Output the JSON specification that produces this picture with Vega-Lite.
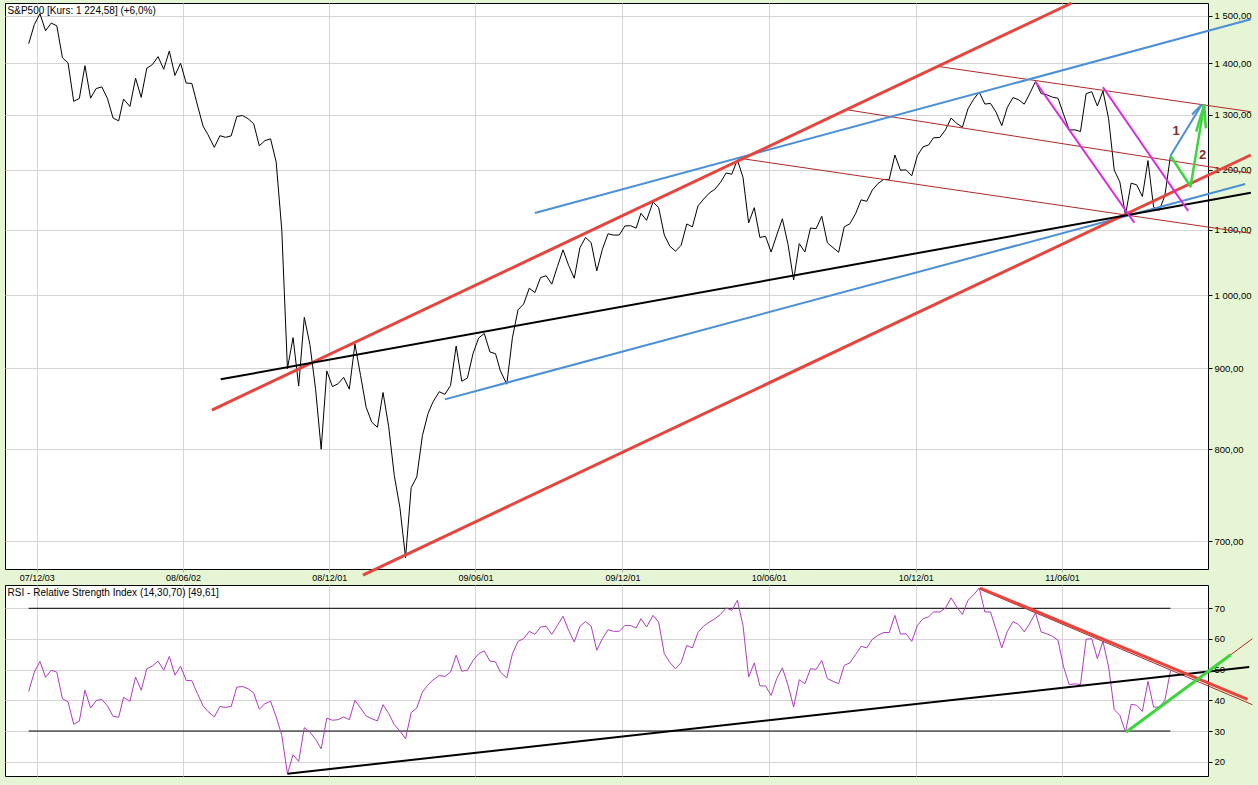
{
"$schema":"https://vega.github.io/schema/vega-lite/v6.json",
"background":"#E6F6D5",
"padding":{"left":4,"top":1,"right":4,"bottom":8},
"bounds":"flush",
"spacing":16,
"config":{
 "view":{"stroke":"#000000","strokeWidth":1,"fill":"#FFFFFF"},
 "line":{"strokeJoin":"round"},
 "axis":{"labelFont":"Liberation Sans","labelColor":"#000000","gridColor":"#D5D5D5","gridWidth":1,"domain":false,"title":null,"labelOverlap":false,"labelFlush":false}
},
"datasets":{
"price":[
{"date":"2007-11-23","v":1440.70},{"date":"2007-11-30","v":1481.14},{"date":"2007-12-07","v":1504.66},{"date":"2007-12-14","v":1467.95},{"date":"2007-12-21","v":1484.46},{"date":"2007-12-28","v":1478.49},
{"date":"2008-01-04","v":1411.63},{"date":"2008-01-11","v":1401.02},{"date":"2008-01-18","v":1325.19},{"date":"2008-01-25","v":1330.61},{"date":"2008-02-01","v":1395.42},{"date":"2008-02-08","v":1331.29},{"date":"2008-02-15","v":1349.99},{"date":"2008-02-22","v":1353.11},{"date":"2008-02-29","v":1330.63},{"date":"2008-03-07","v":1293.37},{"date":"2008-03-14","v":1288.14},{"date":"2008-03-20","v":1329.51},{"date":"2008-03-28","v":1315.22},{"date":"2008-04-04","v":1370.40},{"date":"2008-04-11","v":1332.83},{"date":"2008-04-18","v":1390.33},{"date":"2008-04-25","v":1397.84},{"date":"2008-05-02","v":1413.90},{"date":"2008-05-09","v":1388.28},{"date":"2008-05-16","v":1425.35},{"date":"2008-05-23","v":1375.93},{"date":"2008-05-30","v":1400.38},{"date":"2008-06-06","v":1360.68},{"date":"2008-06-13","v":1360.03},{"date":"2008-06-20","v":1317.93},{"date":"2008-06-27","v":1278.38},{"date":"2008-07-03","v":1262.90},{"date":"2008-07-11","v":1239.49},{"date":"2008-07-18","v":1260.68},{"date":"2008-07-25","v":1257.76},{"date":"2008-08-01","v":1260.31},{"date":"2008-08-08","v":1296.32},{"date":"2008-08-15","v":1298.20},{"date":"2008-08-22","v":1292.20},{"date":"2008-08-29","v":1282.83},{"date":"2008-09-05","v":1242.31},{"date":"2008-09-12","v":1251.70},{"date":"2008-09-19","v":1255.08},{"date":"2008-09-26","v":1213.27},{"date":"2008-10-03","v":1099.23},{"date":"2008-10-10","v":899.22},{"date":"2008-10-17","v":940.55},{"date":"2008-10-24","v":876.77},{"date":"2008-10-31","v":968.75},{"date":"2008-11-07","v":930.99},{"date":"2008-11-14","v":873.29},{"date":"2008-11-21","v":800.03},{"date":"2008-11-28","v":896.24},{"date":"2008-12-05","v":876.07},{"date":"2008-12-12","v":879.73},{"date":"2008-12-19","v":887.88},{"date":"2008-12-26","v":872.80},
{"date":"2009-01-02","v":931.80},{"date":"2009-01-09","v":890.35},{"date":"2009-01-16","v":850.12},{"date":"2009-01-23","v":831.95},{"date":"2009-01-30","v":825.88},{"date":"2009-02-06","v":868.60},{"date":"2009-02-13","v":826.84},{"date":"2009-02-20","v":770.05},{"date":"2009-02-27","v":735.09},{"date":"2009-03-06","v":683.38},{"date":"2009-03-13","v":756.55},{"date":"2009-03-20","v":768.54},{"date":"2009-03-27","v":815.94},{"date":"2009-04-03","v":842.50},{"date":"2009-04-09","v":856.56},{"date":"2009-04-17","v":869.60},{"date":"2009-04-24","v":866.23},{"date":"2009-05-01","v":877.52},{"date":"2009-05-08","v":929.23},{"date":"2009-05-15","v":882.88},{"date":"2009-05-22","v":887.00},{"date":"2009-05-29","v":919.14},{"date":"2009-06-05","v":940.09},{"date":"2009-06-12","v":946.21},{"date":"2009-06-19","v":921.23},{"date":"2009-06-26","v":918.90},{"date":"2009-07-02","v":896.42},{"date":"2009-07-10","v":879.13},{"date":"2009-07-17","v":940.38},{"date":"2009-07-24","v":979.26},{"date":"2009-07-31","v":987.48},{"date":"2009-08-07","v":1010.48},{"date":"2009-08-14","v":1004.09},{"date":"2009-08-21","v":1026.13},{"date":"2009-08-28","v":1028.93},{"date":"2009-09-04","v":1016.40},{"date":"2009-09-11","v":1042.73},{"date":"2009-09-18","v":1068.30},{"date":"2009-09-25","v":1044.38},{"date":"2009-10-02","v":1025.21},{"date":"2009-10-09","v":1071.49},{"date":"2009-10-16","v":1087.68},{"date":"2009-10-23","v":1079.60},{"date":"2009-10-30","v":1036.19},{"date":"2009-11-06","v":1069.30},{"date":"2009-11-13","v":1093.48},{"date":"2009-11-20","v":1091.38},{"date":"2009-11-27","v":1091.49},{"date":"2009-12-04","v":1105.98},{"date":"2009-12-11","v":1106.41},{"date":"2009-12-18","v":1102.47},{"date":"2009-12-24","v":1126.48},{"date":"2009-12-31","v":1115.10},
{"date":"2010-01-08","v":1144.98},{"date":"2010-01-15","v":1136.03},{"date":"2010-01-22","v":1091.76},{"date":"2010-01-29","v":1073.87},{"date":"2010-02-05","v":1066.19},{"date":"2010-02-12","v":1075.51},{"date":"2010-02-19","v":1109.17},{"date":"2010-02-26","v":1104.49},{"date":"2010-03-05","v":1138.70},{"date":"2010-03-12","v":1149.99},{"date":"2010-03-19","v":1159.90},{"date":"2010-03-26","v":1166.59},{"date":"2010-04-02","v":1178.10},{"date":"2010-04-09","v":1194.37},{"date":"2010-04-16","v":1192.13},{"date":"2010-04-23","v":1217.28},{"date":"2010-04-30","v":1186.69},{"date":"2010-05-07","v":1110.88},{"date":"2010-05-14","v":1135.68},{"date":"2010-05-21","v":1087.69},{"date":"2010-05-28","v":1089.41},{"date":"2010-06-04","v":1064.88},{"date":"2010-06-11","v":1091.60},{"date":"2010-06-18","v":1117.51},{"date":"2010-06-25","v":1076.76},{"date":"2010-07-02","v":1022.58},{"date":"2010-07-09","v":1077.96},{"date":"2010-07-16","v":1064.88},{"date":"2010-07-23","v":1102.66},{"date":"2010-07-30","v":1101.60},{"date":"2010-08-06","v":1121.64},{"date":"2010-08-13","v":1079.25},{"date":"2010-08-20","v":1071.69},{"date":"2010-08-27","v":1064.59},{"date":"2010-09-03","v":1104.51},{"date":"2010-09-10","v":1109.55},{"date":"2010-09-17","v":1125.59},{"date":"2010-09-24","v":1148.67},{"date":"2010-10-01","v":1146.24},{"date":"2010-10-08","v":1165.15},{"date":"2010-10-15","v":1176.19},{"date":"2010-10-22","v":1183.08},{"date":"2010-10-29","v":1183.26},{"date":"2010-11-05","v":1225.85},{"date":"2010-11-12","v":1199.21},{"date":"2010-11-19","v":1199.73},{"date":"2010-11-26","v":1189.40},{"date":"2010-12-03","v":1224.71},{"date":"2010-12-10","v":1240.40},{"date":"2010-12-17","v":1243.91},{"date":"2010-12-23","v":1256.77},{"date":"2010-12-31","v":1257.64},
{"date":"2011-01-07","v":1271.50},{"date":"2011-01-14","v":1293.24},{"date":"2011-01-21","v":1283.35},{"date":"2011-01-28","v":1276.34},{"date":"2011-02-04","v":1310.87},{"date":"2011-02-11","v":1329.15},{"date":"2011-02-18","v":1343.01},{"date":"2011-02-25","v":1319.88},{"date":"2011-03-04","v":1321.15},{"date":"2011-03-11","v":1304.28},{"date":"2011-03-18","v":1279.20},{"date":"2011-03-25","v":1313.80},{"date":"2011-04-01","v":1332.41},{"date":"2011-04-08","v":1328.17},{"date":"2011-04-15","v":1319.68},{"date":"2011-04-21","v":1337.38},{"date":"2011-04-29","v":1363.61},{"date":"2011-05-06","v":1340.20},{"date":"2011-05-13","v":1337.77},{"date":"2011-05-20","v":1333.27},{"date":"2011-05-27","v":1331.10},{"date":"2011-06-03","v":1300.16},{"date":"2011-06-10","v":1270.98},{"date":"2011-06-17","v":1271.50},{"date":"2011-06-24","v":1268.45},{"date":"2011-07-01","v":1339.67},{"date":"2011-07-08","v":1343.80},{"date":"2011-07-15","v":1316.14},{"date":"2011-07-22","v":1345.02},{"date":"2011-07-29","v":1292.28},{"date":"2011-08-05","v":1199.38},{"date":"2011-08-12","v":1178.81},{"date":"2011-08-19","v":1123.53},{"date":"2011-08-26","v":1176.80},{"date":"2011-09-02","v":1173.97},{"date":"2011-09-09","v":1154.23},{"date":"2011-09-16","v":1216.01},{"date":"2011-09-23","v":1136.43},{"date":"2011-09-30","v":1131.42},{"date":"2011-10-07","v":1155.46},{"date":"2011-10-14","v":1224.58}
],
"rsi":[
{"date":"2007-11-23","v":42.9},{"date":"2007-11-30","v":49.2},{"date":"2007-12-07","v":52.7},{"date":"2007-12-14","v":47.5},{"date":"2007-12-21","v":49.8},{"date":"2007-12-28","v":49.2},
{"date":"2008-01-04","v":40.5},{"date":"2008-01-11","v":39.5},{"date":"2008-01-18","v":32.2},{"date":"2008-01-25","v":33.2},{"date":"2008-02-01","v":43.3},{"date":"2008-02-08","v":37.5},{"date":"2008-02-15","v":39.9},{"date":"2008-02-22","v":40.3},{"date":"2008-02-29","v":38.2},{"date":"2008-03-07","v":34.8},{"date":"2008-03-14","v":34.5},{"date":"2008-03-20","v":41.0},{"date":"2008-03-28","v":39.7},{"date":"2008-04-04","v":47.6},{"date":"2008-04-11","v":43.3},{"date":"2008-04-18","v":50.3},{"date":"2008-04-25","v":51.2},{"date":"2008-05-02","v":52.8},{"date":"2008-05-09","v":49.8},{"date":"2008-05-16","v":54.3},{"date":"2008-05-23","v":48.2},{"date":"2008-05-30","v":51.1},{"date":"2008-06-06","v":46.5},{"date":"2008-06-13","v":46.4},{"date":"2008-06-20","v":42.2},{"date":"2008-06-27","v":38.2},{"date":"2008-07-03","v":36.4},{"date":"2008-07-11","v":34.6},{"date":"2008-07-18","v":38.0},{"date":"2008-07-25","v":37.7},{"date":"2008-08-01","v":38.0},{"date":"2008-08-08","v":44.3},{"date":"2008-08-15","v":44.5},{"date":"2008-08-22","v":43.8},{"date":"2008-08-29","v":42.4},{"date":"2008-09-05","v":37.1},{"date":"2008-09-12","v":38.9},{"date":"2008-09-19","v":39.7},{"date":"2008-09-26","v":34.6},{"date":"2008-10-03","v":28.6},{"date":"2008-10-10","v":16.1},{"date":"2008-10-17","v":22.3},{"date":"2008-10-24","v":20.1},{"date":"2008-10-31","v":31.1},{"date":"2008-11-07","v":29.7},{"date":"2008-11-14","v":27.3},{"date":"2008-11-21","v":24.2},{"date":"2008-11-28","v":34.2},{"date":"2008-12-05","v":33.5},{"date":"2008-12-12","v":33.7},{"date":"2008-12-19","v":34.6},{"date":"2008-12-26","v":33.7},
{"date":"2009-01-02","v":40.0},{"date":"2009-01-09","v":37.5},{"date":"2009-01-16","v":34.9},{"date":"2009-01-23","v":34.0},{"date":"2009-01-30","v":33.3},{"date":"2009-02-06","v":38.6},{"date":"2009-02-13","v":35.7},{"date":"2009-02-20","v":32.1},{"date":"2009-02-27","v":30.0},{"date":"2009-03-06","v":27.5},{"date":"2009-03-13","v":36.0},{"date":"2009-03-20","v":37.5},{"date":"2009-03-27","v":42.7},{"date":"2009-04-03","v":45.1},{"date":"2009-04-09","v":46.6},{"date":"2009-04-17","v":48.1},{"date":"2009-04-24","v":47.8},{"date":"2009-05-01","v":49.2},{"date":"2009-05-08","v":54.7},{"date":"2009-05-15","v":49.5},{"date":"2009-05-22","v":49.8},{"date":"2009-05-29","v":53.0},{"date":"2009-06-05","v":55.2},{"date":"2009-06-12","v":56.1},{"date":"2009-06-19","v":52.8},{"date":"2009-06-26","v":52.5},{"date":"2009-07-02","v":49.2},{"date":"2009-07-10","v":47.3},{"date":"2009-07-17","v":55.2},{"date":"2009-07-24","v":59.2},{"date":"2009-07-31","v":60.1},{"date":"2009-08-07","v":62.5},{"date":"2009-08-14","v":61.5},{"date":"2009-08-21","v":63.9},{"date":"2009-08-28","v":64.1},{"date":"2009-09-04","v":61.5},{"date":"2009-09-11","v":64.4},{"date":"2009-09-18","v":67.4},{"date":"2009-09-25","v":62.8},{"date":"2009-10-02","v":59.0},{"date":"2009-10-09","v":64.1},{"date":"2009-10-16","v":65.7},{"date":"2009-10-23","v":64.2},{"date":"2009-10-30","v":56.3},{"date":"2009-11-06","v":60.1},{"date":"2009-11-13","v":63.0},{"date":"2009-11-20","v":62.5},{"date":"2009-11-27","v":62.5},{"date":"2009-12-04","v":64.4},{"date":"2009-12-11","v":64.4},{"date":"2009-12-18","v":63.6},{"date":"2009-12-24","v":66.6},{"date":"2009-12-31","v":63.9},
{"date":"2010-01-08","v":67.7},{"date":"2010-01-15","v":65.5},{"date":"2010-01-22","v":55.2},{"date":"2010-01-29","v":52.3},{"date":"2010-02-05","v":50.3},{"date":"2010-02-12","v":52.3},{"date":"2010-02-19","v":57.9},{"date":"2010-02-26","v":57.1},{"date":"2010-03-05","v":62.1},{"date":"2010-03-12","v":64.2},{"date":"2010-03-19","v":65.5},{"date":"2010-03-26","v":66.6},{"date":"2010-04-02","v":68.0},{"date":"2010-04-09","v":70.1},{"date":"2010-04-16","v":69.3},{"date":"2010-04-23","v":72.6},{"date":"2010-04-30","v":64.4},{"date":"2010-05-07","v":47.6},{"date":"2010-05-14","v":52.2},{"date":"2010-05-21","v":44.7},{"date":"2010-05-28","v":44.7},{"date":"2010-06-04","v":41.6},{"date":"2010-06-11","v":47.1},{"date":"2010-06-18","v":50.6},{"date":"2010-06-25","v":44.9},{"date":"2010-07-02","v":37.8},{"date":"2010-07-09","v":46.7},{"date":"2010-07-16","v":45.4},{"date":"2010-07-23","v":50.3},{"date":"2010-07-30","v":50.1},{"date":"2010-08-06","v":53.0},{"date":"2010-08-13","v":47.1},{"date":"2010-08-20","v":46.2},{"date":"2010-08-27","v":45.4},{"date":"2010-09-03","v":51.4},{"date":"2010-09-10","v":52.2},{"date":"2010-09-17","v":54.9},{"date":"2010-09-24","v":57.6},{"date":"2010-10-01","v":57.1},{"date":"2010-10-08","v":59.9},{"date":"2010-10-15","v":61.2},{"date":"2010-10-22","v":62.1},{"date":"2010-10-29","v":62.1},{"date":"2010-11-05","v":67.7},{"date":"2010-11-12","v":61.6},{"date":"2010-11-19","v":61.7},{"date":"2010-11-26","v":59.2},{"date":"2010-12-03","v":64.4},{"date":"2010-12-10","v":66.6},{"date":"2010-12-17","v":67.2},{"date":"2010-12-23","v":68.8},{"date":"2010-12-31","v":68.8},
{"date":"2011-01-07","v":70.1},{"date":"2011-01-14","v":73.4},{"date":"2011-01-21","v":70.4},{"date":"2011-01-28","v":68.0},{"date":"2011-02-04","v":72.6},{"date":"2011-02-11","v":74.4},{"date":"2011-02-18","v":76.6},{"date":"2011-02-25","v":68.8},{"date":"2011-03-04","v":68.8},{"date":"2011-03-11","v":63.1},{"date":"2011-03-18","v":57.1},{"date":"2011-03-25","v":62.5},{"date":"2011-04-01","v":65.7},{"date":"2011-04-08","v":64.7},{"date":"2011-04-15","v":62.3},{"date":"2011-04-21","v":64.7},{"date":"2011-04-29","v":68.5},{"date":"2011-05-06","v":62.3},{"date":"2011-05-13","v":61.7},{"date":"2011-05-20","v":60.9},{"date":"2011-05-27","v":59.6},{"date":"2011-06-03","v":50.9},{"date":"2011-06-10","v":45.1},{"date":"2011-06-17","v":45.4},{"date":"2011-06-24","v":45.1},{"date":"2011-07-01","v":59.9},{"date":"2011-07-08","v":60.1},{"date":"2011-07-15","v":53.6},{"date":"2011-07-22","v":59.2},{"date":"2011-07-29","v":50.9},{"date":"2011-08-05","v":37.0},{"date":"2011-08-12","v":35.1},{"date":"2011-08-19","v":29.7},{"date":"2011-08-26","v":38.7},{"date":"2011-09-02","v":38.4},{"date":"2011-09-09","v":36.4},{"date":"2011-09-16","v":46.2},{"date":"2011-09-23","v":37.8},{"date":"2011-09-30","v":37.8},{"date":"2011-10-07","v":40.0},{"date":"2011-10-14","v":49.61}
],
"trend":[
{"id":"t1","s":"rt","date":"2010-12-31","v":1393.4},{"id":"t1","s":"rt","date":"2012-01-22","v":1305.3},
{"id":"t2","s":"rt","date":"2010-09-08","v":1308.6},{"id":"t2","s":"rt","date":"2012-01-22","v":1193.8},
{"id":"t3","s":"rt","date":"2010-04-26","v":1220.0},{"id":"t3","s":"rt","date":"2012-01-22","v":1094.2},
{"id":"b1","s":"b","date":"2009-08-14","v":1126.9},{"id":"b1","s":"b","date":"2012-01-22","v":1492.6},
{"id":"b2","s":"b","date":"2009-04-24","v":860.0},{"id":"b2","s":"b","date":"2012-01-15","v":1175.4},
{"id":"r1","s":"r","date":"2008-07-08","v":846.8},{"id":"r1","s":"r","date":"2011-06-13","v":1528.3},
{"id":"r2","s":"r","date":"2009-01-12","v":666.5},{"id":"r2","s":"r","date":"2012-01-22","v":1225.9},
{"id":"k1","s":"k","date":"2008-07-19","v":885.4},{"id":"k1","s":"k","date":"2012-01-22","v":1160.6},
{"id":"m1","s":"m","date":"2011-04-29","v":1363.4},{"id":"m1","s":"m","date":"2011-08-30","v":1111.2},
{"id":"m2","s":"m","date":"2011-07-22","v":1352.4},{"id":"m2","s":"m","date":"2011-11-05","v":1130.2},
{"id":"a1","s":"a","date":"2011-10-14","v":1224.58},{"id":"a1","s":"a","date":"2011-11-22","v":1319.0},
{"id":"a2","s":"a","date":"2011-11-10","v":1300.0},{"id":"a2","s":"a","date":"2011-11-22","v":1319.0},
{"id":"g1","s":"g","date":"2011-10-14","v":1224.58},{"id":"g1","s":"g","date":"2011-11-08","v":1171.1},{"id":"g1","s":"g","date":"2011-11-25","v":1319.0},
{"id":"g2","s":"g","date":"2011-11-15","v":1268.0},{"id":"g2","s":"g","date":"2011-11-25","v":1319.0},
{"id":"g3","s":"g","date":"2011-11-25","v":1319.0},{"id":"g3","s":"g","date":"2011-11-27","v":1274.3}
],
"labels":[{"date":"2011-10-21","v":1269.3,"t":"1"},{"date":"2011-11-23","v":1225.9,"t":"2"}],
"ptitle":[{"date":"2007-10-24","v":1528.3,"t":"S&P500 [Kurs: 1 224,58] (+6,0%)"}],
"rtitle":[{"date":"2007-10-24","v":77.59,"t":"RSI - Relative Strength Index (14,30,70) [49,61]"}],
"rsitrend":[
{"id":"rk","s":"k","date":"2008-10-10","v":16.09},{"id":"rk","s":"k","date":"2012-01-20","v":50.86},
{"id":"rt1","s":"rt","date":"2011-02-19","v":76.2},{"id":"rt1","s":"rt","date":"2012-01-24","v":38.57},
{"id":"rt2","s":"rt","date":"2011-08-20","v":29.7},{"id":"rt2","s":"rt","date":"2012-01-24","v":60.09},
{"id":"rr","s":"r","date":"2011-02-19","v":76.6},{"id":"rr","s":"r","date":"2012-01-18","v":40.33},
{"id":"rg","s":"g","date":"2011-08-20","v":29.7},{"id":"rg","s":"g","date":"2011-12-28","v":54.87}
],
"levels":[{"date":"2007-11-23","date2":"2011-10-14","v":70},{"date":"2007-11-23","date2":"2011-10-14","v":30}]
},
"vconcat":[
{
 "width":1203,"height":566,
 "encoding":{
  "x":{"field":"date","type":"temporal",
       "scale":{"type":"utc","domain":[{"year":2007,"month":10,"date":24,"hours":12,"utc":true},{"year":2011,"month":11,"date":29,"hours":17,"utc":true}]},
       "axis":{"values":[{"year":2007,"month":12,"date":3,"utc":true},{"year":2008,"month":6,"date":2,"utc":true},{"year":2008,"month":12,"date":1,"utc":true},{"year":2009,"month":6,"date":1,"utc":true},{"year":2009,"month":12,"date":1,"utc":true},{"year":2010,"month":6,"date":1,"utc":true},{"year":2010,"month":12,"date":1,"utc":true},{"year":2011,"month":6,"date":1,"utc":true}],
               "labelExpr":"utcFormat(datum.value, '%y/%m/%d')","grid":true,"tickSize":3,"tickColor":"#B0B0B0","labelPadding":1,"labelFontSize":9}},
  "y":{"field":"v","type":"quantitative",
       "scale":{"type":"log","domain":[672.4,1528.3],"nice":false,"zero":false},
       "axis":{"orient":"right","values":[700,800,900,1000,1100,1200,1300,1400,1500],
               "labelExpr":"replace(replace(format(datum.value, ',.2f'), ',', ' '), '.', ',')",
               "grid":true,"tickSize":4,"tickColor":"#000000","labelPadding":2,"labelFontSize":9.5}}
 },
 "layer":[
  {"data":{"name":"price"},"mark":{"type":"line","color":"#000000","strokeWidth":1}},
  {"data":{"name":"trend"},"transform":[{"filter":"datum.s == 'rt'"}],"mark":{"type":"line","color":"#B02828","strokeWidth":1},"encoding":{"detail":{"field":"id"}}},
  {"data":{"name":"trend"},"transform":[{"filter":"datum.s == 'b'"}],"mark":{"type":"line","color":"#4A8FD8","strokeWidth":2},"encoding":{"detail":{"field":"id"}}},
  {"data":{"name":"trend"},"transform":[{"filter":"datum.s == 'r'"}],"mark":{"type":"line","color":"#E5453C","strokeWidth":3},"encoding":{"detail":{"field":"id"}}},
  {"data":{"name":"trend"},"transform":[{"filter":"datum.s == 'k'"}],"mark":{"type":"line","color":"#000000","strokeWidth":2},"encoding":{"detail":{"field":"id"}}},
  {"data":{"name":"trend"},"transform":[{"filter":"datum.s == 'm'"}],"mark":{"type":"line","color":"#E024E0","strokeWidth":2},"encoding":{"detail":{"field":"id"}}},
  {"data":{"name":"trend"},"transform":[{"filter":"datum.s == 'a'"}],"mark":{"type":"line","color":"#4A8FD8","strokeWidth":2},"encoding":{"detail":{"field":"id"}}},
  {"data":{"name":"trend"},"transform":[{"filter":"datum.s == 'g'"}],"mark":{"type":"line","color":"#3ED43E","strokeWidth":2.5},"encoding":{"detail":{"field":"id"}}},
  {"data":{"name":"labels"},"mark":{"type":"text","font":"Liberation Sans","fontSize":13,"fontWeight":"bold","color":"#8B2A2A"},"encoding":{"text":{"field":"t"}}},
  {"data":{"name":"ptitle"},"mark":{"type":"text","font":"Liberation Sans","fontSize":10,"color":"#000000","align":"left","baseline":"alphabetic","dx":3,"dy":10.5},"encoding":{"text":{"field":"t"}}}
 ]
},
{
 "width":1203,"height":191,
 "encoding":{
  "x":{"field":"date","type":"temporal",
       "scale":{"type":"utc","domain":[{"year":2007,"month":10,"date":24,"hours":12,"utc":true},{"year":2011,"month":11,"date":29,"hours":17,"utc":true}]},
       "axis":{"values":[{"year":2007,"month":12,"date":3,"utc":true},{"year":2008,"month":6,"date":2,"utc":true},{"year":2008,"month":12,"date":1,"utc":true},{"year":2009,"month":6,"date":1,"utc":true},{"year":2009,"month":12,"date":1,"utc":true},{"year":2010,"month":6,"date":1,"utc":true},{"year":2010,"month":12,"date":1,"utc":true},{"year":2011,"month":6,"date":1,"utc":true}],
               "labels":false,"ticks":false,"grid":true}},
  "y":{"field":"v","type":"quantitative",
       "scale":{"domain":[15.34,77.59],"nice":false,"zero":false},
       "axis":{"orient":"right","values":[20,30,40,50,60,70],"grid":true,"tickSize":4,"tickColor":"#000000","labelPadding":2,"labelFontSize":9.5}}
 },
 "layer":[
  {"data":{"name":"levels"},"mark":{"type":"rule","color":"#000000","strokeWidth":1},"encoding":{"x2":{"field":"date2"}}},
  {"data":{"name":"rsi"},"mark":{"type":"line","color":"#B03CC0","strokeWidth":1}},
  {"data":{"name":"rsitrend"},"transform":[{"filter":"datum.s == 'rt'"}],"mark":{"type":"line","color":"#B02828","strokeWidth":1},"encoding":{"detail":{"field":"id"}}},
  {"data":{"name":"rsitrend"},"transform":[{"filter":"datum.s == 'k'"}],"mark":{"type":"line","color":"#000000","strokeWidth":2},"encoding":{"detail":{"field":"id"}}},
  {"data":{"name":"rsitrend"},"transform":[{"filter":"datum.s == 'r'"}],"mark":{"type":"line","color":"#E5453C","strokeWidth":3},"encoding":{"detail":{"field":"id"}}},
  {"data":{"name":"rsitrend"},"transform":[{"filter":"datum.s == 'g'"}],"mark":{"type":"line","color":"#3ED43E","strokeWidth":3},"encoding":{"detail":{"field":"id"}}},
  {"data":{"name":"rtitle"},"mark":{"type":"text","font":"Liberation Sans","fontSize":10,"color":"#000000","align":"left","baseline":"alphabetic","dx":3,"dy":11},"encoding":{"text":{"field":"t"}}}
 ]
}
]
}
